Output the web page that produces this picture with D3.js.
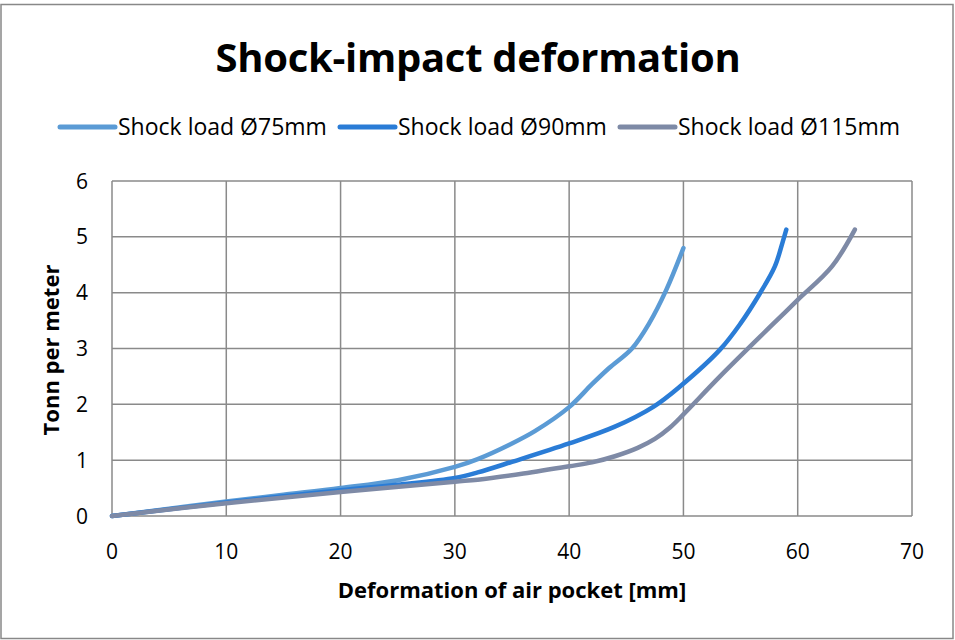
<!DOCTYPE html>
<html><head><meta charset="utf-8">
<script src="https://cdn.jsdelivr.net/npm/d3@7"></script>
<style>html,body{margin:0;padding:0;background:#fff;}svg{display:block;font-family:"Open Sans",Lato,sans-serif;}</style>
</head><body>
<svg id="c" width="955" height="640"></svg>
<script>
const title = "Shock-impact deformation";
const xTitle = "Deformation of air pocket [mm]";
const yTitle = "Tonn per meter";
const seriesNames = ["Shock load Ø75mm", "Shock load Ø90mm", "Shock load Ø115mm"];
const seriesColors = ["#5B9BD5", "#2A7CD6", "#7E8AA6"];
const xTicks = [0, 10, 20, 30, 40, 50, 60, 70];
const yTicks = [0, 1, 2, 3, 4, 5, 6];
const s75 = [[0,0],[5,0.13],[10,0.26],[15,0.38],[20,0.5],[25,0.64],[30,0.88],[32,1.02],[35,1.3],[37,1.52],[40,1.95],[42,2.36],[43.5,2.65],[45.5,3.0],[47,3.45],[48.5,4.05],[50,4.8]];
const s90 = [[0,0],[5,0.12],[10,0.24],[20,0.46],[25,0.56],[30,0.68],[32,0.78],[35,0.97],[40,1.3],[44,1.6],[47.4,1.96],[49.7,2.32],[53.2,2.98],[55,3.45],[56.7,3.99],[58,4.47],[58.7,4.92],[59,5.13]];
const s115 = [[0,0],[10,0.23],[20,0.43],[30,0.615],[32,0.65],[36,0.76],[40,0.89],[42,0.96],[44,1.07],[46,1.22],[47.5,1.38],[48.8,1.58],[50,1.82],[53.2,2.5],[57.6,3.39],[60,3.87],[63,4.47],[65,5.13]];
const seriesData = [s75, s90, s115];

const svg = d3.select("#c");
svg.append("rect").attr("x",1).attr("y",4.5).attr("width",952).attr("height",634)
  .attr("fill","#fff").attr("stroke","#888").attr("stroke-width",1.5);

const x = d3.scaleLinear().domain([0,70]).range([112,912]);
const y = d3.scaleLinear().domain([0,6]).range([516,181]);

// grid
const g = svg.append("g");
g.selectAll("line.v").data(xTicks).join("line")
  .attr("x1",d=>x(d)).attr("x2",d=>x(d)).attr("y1",y(0)).attr("y2",y(6))
  .attr("stroke","#8a8a8a").attr("stroke-width",1.5);
g.selectAll("line.h").data(yTicks).join("line")
  .attr("y1",d=>y(d)).attr("y2",d=>y(d)).attr("x1",x(0)).attr("x2",x(70))
  .attr("stroke","#8a8a8a").attr("stroke-width",1.5);

// tick labels
svg.append("g").selectAll("text").data(xTicks).join("text")
  .attr("x",d=>x(d)).attr("y",559).attr("text-anchor","middle")
  .attr("font-size",21).attr("fill","#000").text(d=>d);
svg.append("g").selectAll("text").data(yTicks).join("text")
  .attr("x",88).attr("y",d=>y(d)+7.5).attr("text-anchor","end")
  .attr("font-size",21).attr("fill","#000").text(d=>d);

// lines
const line = d3.line().x(d=>x(d[0])).y(d=>y(d[1])).curve(d3.curveCatmullRom.alpha(0.5));
svg.append("g").selectAll("path").data(seriesData).join("path")
  .attr("d",line).attr("fill","none")
  .attr("stroke",(d,i)=>seriesColors[i]).attr("stroke-width",4.5)
  .attr("stroke-linecap","round").attr("stroke-linejoin","round");

// titles
svg.append("text").attr("x",478).attr("y",72).attr("text-anchor","middle")
  .attr("font-size",40).attr("font-weight","bold").attr("letter-spacing",-0.3).text(title);
svg.append("text").attr("x",512).attr("y",598).attr("text-anchor","middle")
  .attr("font-size",22).attr("font-weight","bold").text(xTitle);
svg.append("text").attr("transform","translate(59,350) rotate(-90)").attr("text-anchor","middle")
  .attr("font-size",22).attr("font-weight","bold").text(yTitle);

// legend
const legX = [60, 340, 620];
const leg = svg.append("g").selectAll("g").data(seriesNames).join("g")
  .attr("transform",(d,i)=>`translate(${legX[i]},127)`);
leg.append("line").attr("x1",0).attr("x2",55).attr("y1",0).attr("y2",0)
  .attr("stroke",(d,i)=>seriesColors[i]).attr("stroke-width",5).attr("stroke-linecap","round");
leg.append("text").attr("x",58).attr("y",8).attr("font-size",23).text(d=>d);
</script>
</body></html>
